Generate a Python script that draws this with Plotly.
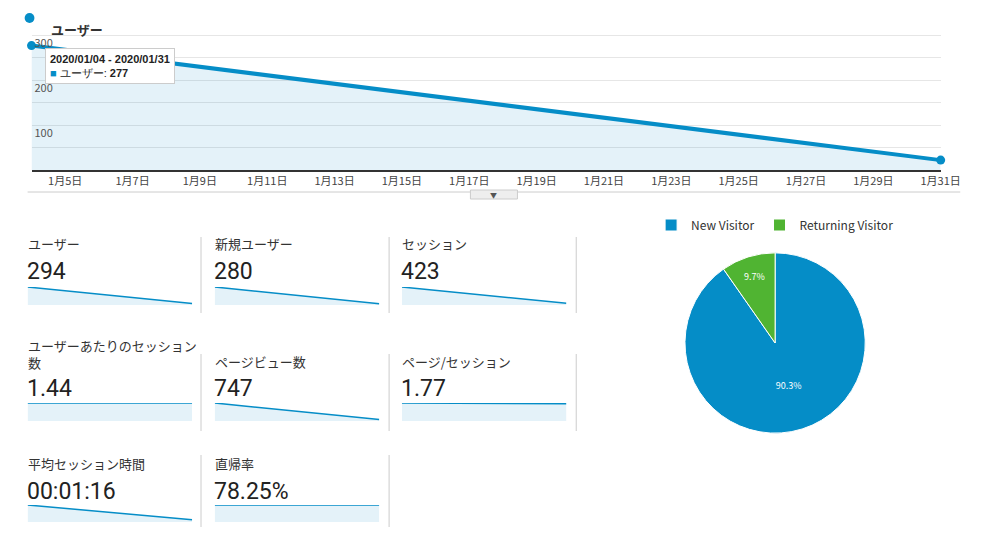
import plotly.graph_objects as go

W, H = 985, 519
OFF = 8
BLUE = "#058dc7"
FILL = "rgba(5,141,199,0.11)"
FONT = "Noto Sans CJK JP"

# main series
dates = ["2020-01-04", "2020-01-31"]
users = [277, 22]
tick_dates = ["2020-01-%02d" % d for d in range(5, 32, 2)]
tick_text = ["1月%d日" % d for d in range(5, 32, 2)]

# visitor split
pie_labels = ["New Visitor", "Returning Visitor"]
pie_values = [90.3, 9.7]

# metric tiles
metric_names = ["ユーザー", "新規ユーザー", "セッション", "ユーザーあたりのセッション<br>数",
                "ページビュー数", "ページ/セッション", "平均セッション時間", "直帰率"]
metric_values = ["294", "280", "423", "1.44", "747", "1.77", "00:01:16", "78.25%"]
spark_start = [277, 265, 400, 1.44, 700, 1.77, 76, 78.0]
spark_end = [22, 20, 40, 1.44, 55, 1.69, 10, 78.4]


def px(x):
    return (x - OFF) / W


def py(y):
    return 1 - (y - OFF) / H


fig = go.Figure()
fig.add_trace(go.Scatter(x=dates, y=users, mode="lines+markers", fill="tozeroy",
                         fillcolor=FILL, line=dict(color=BLUE, width=4),
                         marker=dict(size=9, color=BLUE), showlegend=False, cliponaxis=False))

fig.add_trace(go.Pie(labels=pie_labels, values=pie_values, sort=False, direction="clockwise",
                     marker=dict(colors=[BLUE, "#50b432"], line=dict(color="white", width=1)),
                     texttemplate="%{value:.1f}%", textposition="inside",
                     insidetextorientation="horizontal",
                     textfont=dict(color="white", size=9),
                     domain=dict(x=[px(699), px(883)], y=[py(435), py(251)])))

cols = [(28, 196), (219, 387), (410, 578)]
rows = [(287, 305, 244, 271), (403, 421, 361, 388), (505, 522, 463, 491)]
ann = []
for i in range(8):
    r, c = divmod(i, 3)
    x0, x1 = cols[c]
    top, bot, ty, vy = rows[r]
    if i == 3:
        ty = 354
    k = i + 2
    fig.add_trace(go.Scatter(x=[0, 1], y=[spark_start[i], spark_end[i]], mode="lines",
                             fill="tozeroy", fillcolor=FILL, line=dict(color=BLUE, width=1.5),
                             xaxis="x%d" % k, yaxis="y%d" % k, showlegend=False, hoverinfo="skip"))
    ymax = max(spark_start[i], spark_end[i])
    fig.update_layout(**{
        "xaxis%d" % k: dict(domain=[px(x0), px(x1)], range=[0, 1], visible=False, anchor="y%d" % k),
        "yaxis%d" % k: dict(domain=[py(bot), py(top)], range=[0, ymax * 1.0], visible=False,
                            anchor="x%d" % k),
    })
    ann.append(dict(x=px(x0 - 2), y=py(ty), xref="paper", yref="paper", text=metric_names[i],
                    showarrow=False, xanchor="left", yanchor="middle",
                    align="left", font=dict(size=13, color="#333")))
    ann.append(dict(x=px(x0 - 3), y=py(vy), xref="paper", yref="paper", text=metric_values[i],
                    showarrow=False, xanchor="left", yanchor="middle",
                    font=dict(size=23, color="#222", family="Roboto")))

ann.append(dict(x=px(50), y=py(18), xref="paper", yref="paper", text="<b>ユーザー</b>",
                showarrow=False, xanchor="left", font=dict(size=13, color="#333")))
ann.append(dict(x=px(46), y=py(66), xref="paper", yref="paper",
                text="<b>2020/01/04 - 2020/01/31</b><br><span style='color:#058dc7'>■</span> ユーザー: <b>277</b>",
                showarrow=False, xanchor="left", yanchor="middle", align="left",
                bgcolor="white", bordercolor="#ccc", borderwidth=1, borderpad=4,
                font=dict(size=11, color="#222", family="Liberation Sans")))
ann.append(dict(x=px(504), y=py(195), xref="paper", yref="paper", text="▼", showarrow=False,
                font=dict(size=7, color="#555")))

shapes = [
    dict(type="circle", xref="paper", yref="paper", x0=px(25), x1=px(35), y0=py(23), y1=py(13),
         fillcolor=BLUE, line=dict(width=0)),
    dict(type="line", xref="paper", yref="paper", x0=px(28), x1=px(980), y0=py(192), y1=py(192),
         line=dict(color="#ccc", width=1)),
    dict(type="rect", xref="paper", yref="paper", x0=px(480), x1=px(528), y0=py(199), y1=py(190),
         fillcolor="#eee", line=dict(color="#ccc", width=1)),
]
for sx, y0, y1 in [(205, 237, 313), (397, 237, 313), (588, 237, 313), (205, 354, 431),
                   (397, 354, 431), (588, 354, 431), (205, 455, 535), (397, 455, 535)]:
    shapes.append(dict(type="line", xref="paper", yref="paper", x0=px(sx), x1=px(sx),
                       y0=py(y1), y1=py(y0), line=dict(color="#ccc", width=1)))

fig.update_layout(
    width=W, height=H, margin=dict(l=0, r=0, t=0, b=0),
    paper_bgcolor="white", plot_bgcolor="white",
    font=dict(family=FONT, color="#333"),
    xaxis=dict(domain=[px(32), px(960)], range=["2020-01-04", "2020-01-31"], tickvals=tick_dates,
               ticktext=tick_text, showgrid=False, showline=True, linecolor="#333", linewidth=1.5,
               tickfont=dict(size=11, color="#444"), ticks=""),
    yaxis=dict(domain=[py(170), py(33)], range=[0, 305], tickvals=[50, 100, 150, 200, 250, 300],
               ticktext=["", "100", "", "200", "", "300"], gridcolor="#e6e6e6", showline=False,
               zeroline=False, ticklabelposition="inside bottom", tickfont=dict(size=11, color="#555")),
    legend=dict(orientation="h", x=px(791), xanchor="center", y=py(225), yanchor="middle",
                font=dict(size=12, color="#333")),
    annotations=ann, shapes=shapes,
)

fig.write_html("out.html")
